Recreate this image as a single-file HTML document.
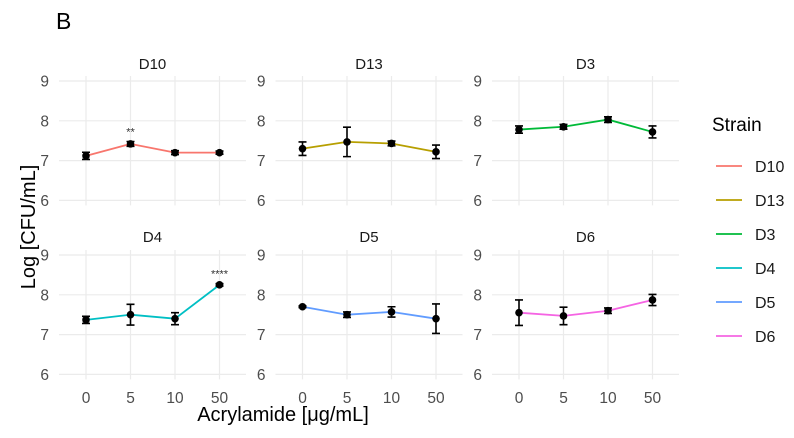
<!DOCTYPE html>
<html><head><meta charset="utf-8"><style>
body{margin:0;background:#fff}
svg{display:block;font-family:"Liberation Sans",Arial,sans-serif}
</style></head><body>
<svg id="chart" width="794" height="438" viewBox="0 0 794 438">
<text x="56" y="29" font-size="23" fill="#000">B</text>
<text x="283" y="421" font-size="20" text-anchor="middle" fill="#000">Acrylamide [μg/mL]</text>
<text transform="translate(35,227) rotate(-90)" font-size="20" text-anchor="middle" fill="#000">Log [CFU/mL]</text>
<g id="panels"></g>
<g id="legend"></g>
</svg>
<script>
const strains=["D10","D13","D3","D4","D5","D6"];
const colors=["#F8766D","#B79F00","#00BA38","#00BFC4","#619CFF","#F564E3"];
const doses=["0","5","10","50"];
const yTicks=[6,7,8,9];
const means=[[7.12,7.42,7.2,7.2],[7.3,7.47,7.43,7.22],[7.78,7.85,8.03,7.72],[7.37,7.5,7.4,8.25],[7.7,7.5,7.57,7.4],[7.55,7.47,7.6,7.87]];
const errs=[[0.09,0.06,0.05,0.04],[0.17,0.37,0.06,0.17],[0.09,0.06,0.07,0.15],[0.09,0.26,0.15,0.03],[0.02,0.07,0.13,0.37],[0.32,0.22,0.07,0.14]];
const stars=[["","**","",""],["","","",""],["","","",""],["","","","****"],["","","",""],["","","",""]];
const NS="http://www.w3.org/2000/svg";
function mk(p,t,a){const e=document.createElementNS(NS,t);for(const k in a)e.setAttribute(k,a[k]);p.appendChild(e);return e;}
const P=document.getElementById("panels");
strains.forEach((s,i)=>{
  const col=i%3,row=Math.floor(i/3);
  const x0=59+col*216.5, x1=x0+187;
  const xs=k=>x0+27+k*44.5;
  const y9=row?255:81;
  const ys=v=>y9+(9-v)*39.8;
  const g=mk(P,"g",{});
  
  
  const t=mk(g,"text",{x:(x0+x1)/2,y:row?242:69,"font-size":15,"text-anchor":"middle",fill:"#1a1a1a"});
  t.textContent=s;
  
  
  yTicks.forEach(v=>{
    const l=mk(g,"line",{x1:x0,x2:x1,y1:ys(v),y2:ys(v),stroke:"#ebebeb","stroke-width":1.2});
    
    
    const tl=mk(g,"text",{x:x0-10,y:ys(v)+5.5,"font-size":15.5,"text-anchor":"end",fill:"#4d4d4d"});
    tl.textContent=v;
    
    
  });
  doses.forEach((d,k)=>{
    const l=mk(g,"line",{x1:xs(k),x2:xs(k),y1:ys(9)-5,y2:ys(6)+5,stroke:"#ebebeb","stroke-width":1.2});
    
    
    if(row){const tl=mk(g,"text",{x:xs(k),y:403,"font-size":15.5,"text-anchor":"middle",fill:"#4d4d4d"});
    tl.textContent=d;
    
    }
  });
  const pts=means[i].map((m,k)=>xs(k)+","+ys(m)).join(" ");
  const pl=mk(g,"polyline",{points:pts,fill:"none",stroke:colors[i],"stroke-width":1.8});
  
  
  means[i].forEach((m,k)=>{
    const x=xs(k),yt=ys(m+errs[i][k]),yb=ys(m-errs[i][k]);
    const eb=mk(g,"path",{d:`M${x-4},${yt}H${x+4}M${x},${yt}V${yb}M${x-4},${yb}H${x+4}`,stroke:"#000","stroke-width":1.6,fill:"none"});
    
    
    const c=mk(g,"circle",{cx:x,cy:ys(m),r:3.8,fill:"#000"});
    
    
    if(stars[i][k]){const st=mk(g,"text",{x:x,y:yt-6,"font-size":11,"text-anchor":"middle",fill:"#333"});
    st.textContent=stars[i][k];
    
    }
  });
});
const L=document.getElementById("legend");
const lt=mk(L,"text",{x:712,y:131,"font-size":19,fill:"#000"});
lt.textContent="Strain";


strains.forEach((s,i)=>{
  const y=166+i*34;
  const g=mk(L,"g",{});
  
  
  mk(g,"line",{x1:716,x2:742,y1:y,y2:y,stroke:colors[i],"stroke-width":1.8});
  const t=mk(g,"text",{x:755,y:y+6,"font-size":16,fill:"#1a1a1a"});
  t.textContent=s;
});
</script>
</body></html>
